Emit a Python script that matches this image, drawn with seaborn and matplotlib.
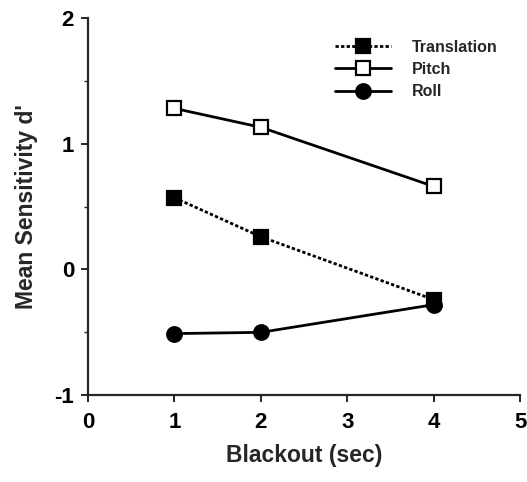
import matplotlib
matplotlib.use("Agg")
import matplotlib.pyplot as plt
import seaborn as sns
import pandas as pd
from matplotlib.ticker import MultipleLocator

blackout = [1, 2, 4]
translation = [0.57, 0.26, -0.24]
pitch = [1.28, 1.13, 0.66]
roll = [-0.51, -0.50, -0.28]
series_names = ["Translation", "Pitch", "Roll"]

df = pd.concat([
    pd.DataFrame({"Blackout": blackout, "d": translation, "cond": "Translation"}),
    pd.DataFrame({"Blackout": blackout, "d": pitch, "cond": "Pitch"}),
    pd.DataFrame({"Blackout": blackout, "d": roll, "cond": "Roll"}),
])

sns.set_style("ticks")
plt.rcParams['font.family'] = ['Liberation Sans', 'DejaVu Sans']
plt.rcParams['font.weight'] = 'bold'
plt.rcParams['axes.unicode_minus'] = False

fig = plt.figure(figsize=(5.27, 4.82), dpi=100)
ax = fig.add_axes([0.167, 0.180, 0.820, 0.783])

styles = {
    "Translation": dict(linestyle=(0, (1.2, 0.8)), marker="s", markerfacecolor="black"),
    "Pitch": dict(linestyle="-", marker="s", markerfacecolor="white"),
    "Roll": dict(linestyle="-", marker="o", markerfacecolor="black"),
}
for name in series_names:
    sub = df[df["cond"] == name]
    sns.lineplot(data=sub, x="Blackout", y="d", ax=ax, color="black", lw=2.0,
                 markersize=10.5, markeredgecolor="black", markeredgewidth=1.6,
                 label=name, **styles[name])

ax.set_xlim(0, 5)
ax.set_ylim(-1, 2)
ax.set_xticks([0, 1, 2, 3, 4, 5])
ax.set_yticks([-1, 0, 1, 2])
ax.yaxis.set_minor_locator(MultipleLocator(0.5))
ax.tick_params(axis='both', which='major', labelsize=16, width=1.4, length=5,
               direction='out', labelcolor='black', pad=5)
ax.tick_params(axis='x', which='major', pad=7)
ax.tick_params(axis='y', which='minor', width=1.0, length=3)
for lab in ax.get_xticklabels() + ax.get_yticklabels():
    lab.set_fontweight('bold')
for sp in ["top", "right"]:
    ax.spines[sp].set_visible(False)
for sp in ["left", "bottom"]:
    ax.spines[sp].set_linewidth(1.6)

ax.set_xlabel("Blackout (sec)", fontsize=16.5, fontweight='bold', labelpad=8)
ax.set_ylabel("Mean Sensitivity d'", fontsize=16.5, fontweight='bold', labelpad=12)

leg = ax.legend(loc="upper right", bbox_to_anchor=(0.98, 0.98), frameon=False,
                prop={'size': 11.5, 'weight': 'bold'}, handlelength=3.5,
                labelspacing=0.45, handletextpad=1.3)

fig.savefig("out.png", dpi=100)
